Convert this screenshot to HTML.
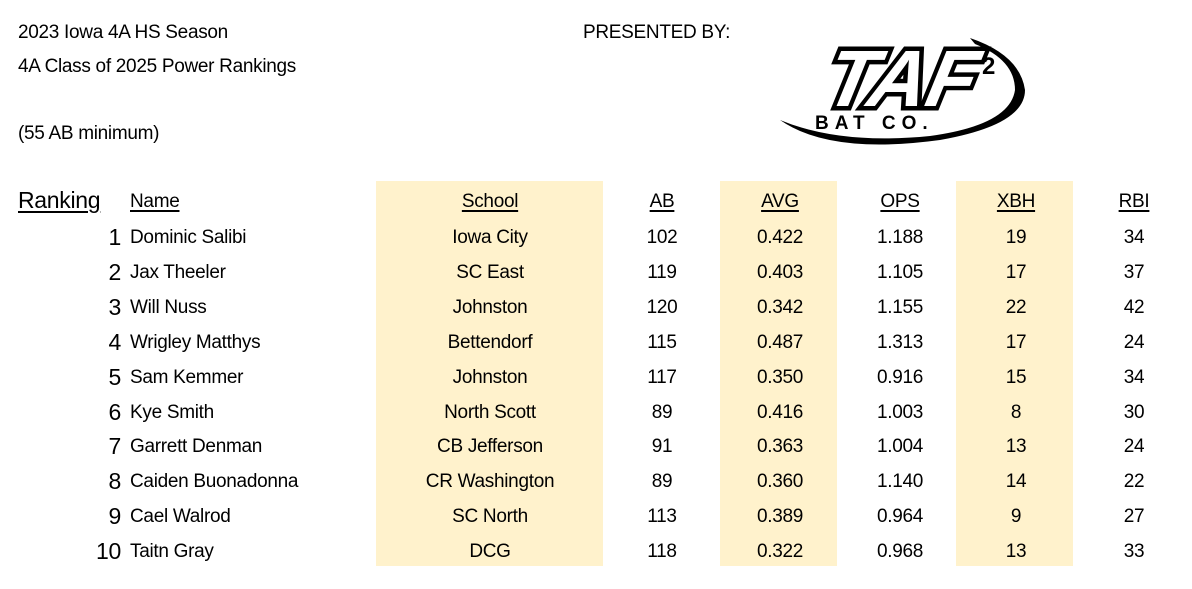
<!DOCTYPE html>
<html><head><meta charset="utf-8"><style>
body{margin:0;width:1192px;height:589px;background:#fff;position:relative;overflow:hidden;font-family:"Liberation Sans",sans-serif;color:#000}
.t{position:absolute;white-space:nowrap;font-size:19px;letter-spacing:-0.3px;line-height:1}
.shade{position:absolute;background:#fff2cc;top:181px;height:385px}
.h{text-decoration:underline;text-underline-offset:3px;text-decoration-thickness:2px}
.c{transform:translateX(-50%)}
.r{transform:translateX(-100%);font-size:23px}
</style></head><body>
<div class="t" style="left:18px;top:23px">2023 Iowa 4A HS Season</div>
<div class="t" style="left:18px;top:57px">4A Class of 2025 Power Rankings</div>
<div class="t" style="left:18px;top:124px">(55 AB minimum)</div>
<div class="t" style="left:583px;top:23px">PRESENTED BY:</div>
<svg style="position:absolute;left:770px;top:30px" width="270" height="125" viewBox="0 0 270 125">
<path d="M10 90 Q60 125 170 110 Q255 95 255 60 Q250 25 200 8 L205 14 Q245 30 245 60 Q240 95 160 106 Q70 115 10 90Z" fill="#000"/>
<text x="125" y="76" text-anchor="middle" font-family="Liberation Sans" font-weight="bold" font-style="italic" font-size="80" fill="#fff" stroke="#000" stroke-width="9" paint-order="stroke" transform="skewX(-12) translate(18,0)">TAF</text>
<text x="212" y="44" font-family="Liberation Sans" font-weight="bold" font-size="24" fill="#000">2</text>
<text x="45" y="99" font-family="Liberation Sans" font-weight="bold" font-size="19" letter-spacing="6" fill="#000">BAT CO.</text>
</svg>
<div class="shade" style="left:376px;width:227px"></div>
<div class="shade" style="left:720px;width:117px"></div>
<div class="shade" style="left:956px;width:117px"></div>
<div class="t h" style="left:18px;top:189px;font-size:23px">Ranking</div>
<div class="t h" style="left:130px;top:192px">Name</div>
<div id="tbl"></div>
<script>
const ranks=[1,2,3,4,5,6,7,8,9,10];
const names=["Dominic Salibi","Jax Theeler","Will Nuss","Wrigley Matthys","Sam Kemmer","Kye Smith","Garrett Denman","Caiden Buonadonna","Cael Walrod","Taitn Gray"];
const schools=["Iowa City","SC East","Johnston","Bettendorf","Johnston","North Scott","CB Jefferson","CR Washington","SC North","DCG"];
const ab=[102,119,120,115,117,89,91,89,113,118];
const avg=["0.422","0.403","0.342","0.487","0.350","0.416","0.363","0.360","0.389","0.322"];
const ops=["1.188","1.105","1.155","1.313","0.916","1.003","1.004","1.140","0.964","0.968"];
const xbh=[19,17,22,17,15,8,13,14,9,13];
const rbi=[34,37,42,24,34,30,24,22,27,33];
const heads=[["School",490],["AB",662],["AVG",780],["OPS",900],["XBH",1016],["RBI",1134]];
const tbl=document.getElementById('tbl');
function add(txt,x,y,cls,name){const d=document.createElement('div');d.className='t '+cls;d.style.left=x+'px';d.style.top=y+'px';d.textContent=txt;


tbl.appendChild(d);}
heads.forEach(h=>add(h[0],h[1],192,'h c',h[0].toLowerCase()+'-header'));
const cols=[schools,ab,avg,ops,xbh,rbi];
ranks.forEach((rk,i)=>{const y=228+i*34.9;
add(String(rk),121,y-2,'r','rank-'+rk);
add(names[i],130,y,'','name-'+rk);
cols.forEach((c,j)=>add(String(c[i]),heads[j][1],y,'c',heads[j][0].toLowerCase()+'-'+rk));});
</script>
</body></html>
